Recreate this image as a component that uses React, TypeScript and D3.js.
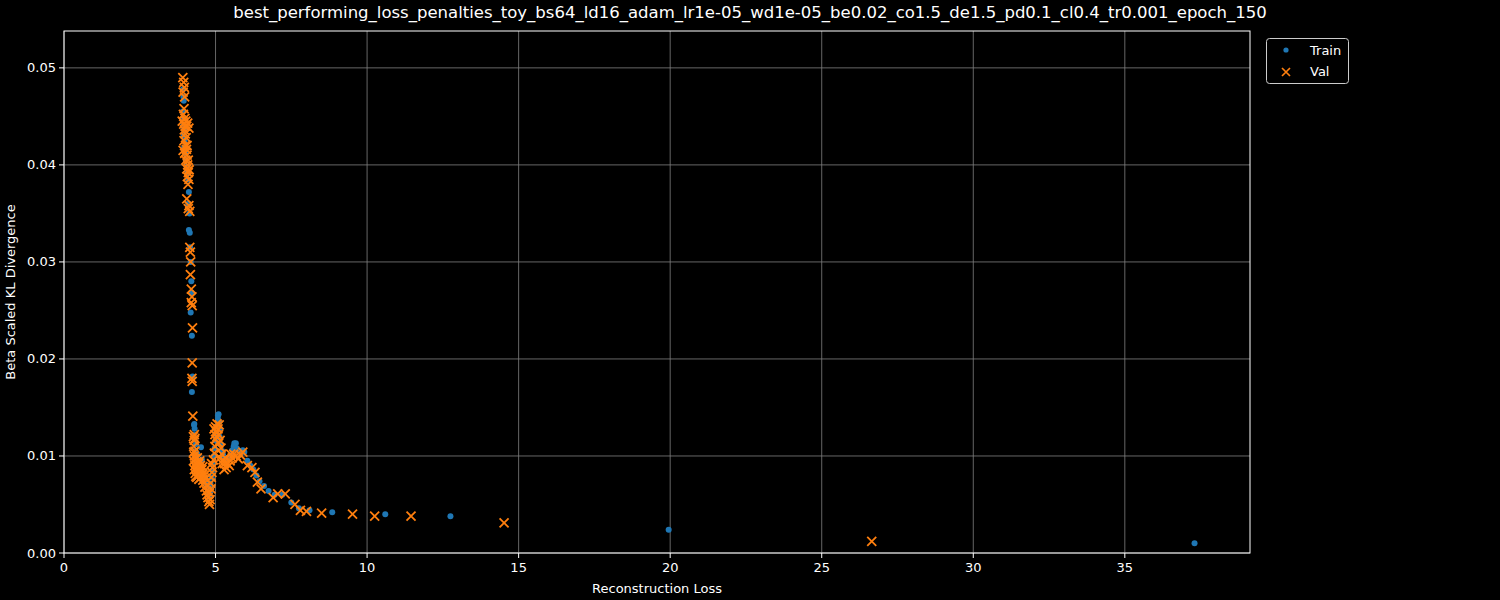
import React from "react";
import * as d3 from "d3";

const TITLE = "best_performing_loss_penalties_toy_bs64_ld16_adam_lr1e-05_wd1e-05_be0.02_co1.5_de1.5_pd0.1_cl0.4_tr0.001_epoch_150";
const X_LABEL = "Reconstruction Loss";
const Y_LABEL = "Beta Scaled KL Divergence";
const X_TICKS = [0, 5, 10, 15, 20, 25, 30, 35];
const Y_TICKS = [0, 0.01, 0.02, 0.03, 0.04, 0.05];
const LEGEND = ["Train", "Val"];

const trainX = [3.93,3.94,3.95,3.92,3.96,3.93,3.97,3.95,3.98,3.96,4.0,4.02,4.05,4.08,4.1,4.12,4.1,4.14,4.12,4.15,4.16,4.18,4.2,4.21,4.18,4.22,4.24,4.22,
4.3,4.31,4.28,4.3,4.35,4.33,4.38,4.4,4.42,4.45,4.5,4.55,4.6,4.5,4.62,4.68,4.72,4.75,4.78,4.8,4.82,4.85,4.83,4.87,4.9,4.92,4.95,4.97,5.0,5.02,5.05,5.08,5.1,5.12,5.15,5.13,5.18,5.22,5.28,5.35,5.42,5.5,5.55,5.6,5.62,5.7,5.8,5.9,5.95,6.05,6.15,6.25,6.35,6.45,6.6,6.75,6.95,7.2,7.5,7.75,8.1,8.85,10.6,12.75,19.95,37.3,
4.29,4.52,5.67,5.08,4.4,4.55,4.98,5.25];
const trainY = [0.0478,0.0470,0.0466,0.0455,0.0448,0.0440,0.0436,0.0430,0.0425,0.0418,0.0412,0.0405,0.0398,0.0392,0.0385,0.0372,0.0360,0.0350,0.0333,0.0330,0.0315,0.0300,0.0280,0.0268,0.0248,0.0224,0.0182,0.0166,
0.0133,0.0128,0.0122,0.0118,0.0112,0.0105,0.0100,0.0095,0.0090,0.0088,0.0085,0.0082,0.0080,0.0092,0.0078,0.0075,0.0070,0.0066,0.0062,0.0058,0.0062,0.0067,0.0072,0.0078,0.0085,0.0092,0.0100,0.0108,0.0116,0.0124,0.0131,0.0138,0.0143,0.0135,0.0128,0.0120,0.0112,0.0105,0.0098,0.0095,0.0097,0.0100,0.0106,0.0110,0.0113,0.0108,0.0105,0.0106,0.0104,0.0095,0.0090,0.0086,0.0080,0.0074,0.0069,0.0064,0.0060,0.0060,0.0052,0.0046,0.0044,0.0042,0.0040,0.0038,0.0024,0.0010,
0.0132,0.0109,0.0113,0.0142,0.0102,0.0096,0.0121,0.0101];

const valX = [3.92,3.95,3.97,3.93,3.98,3.96,3.94,3.99,4.02,3.95,4.05,3.97,4.0,4.03,3.96,4.01,4.04,3.98,4.06,4.02,4.08,4.05,4.1,4.07,4.12,4.09,4.05,4.12,4.15,4.1,4.15,4.17,4.18,4.17,4.2,4.22,4.2,4.23,4.24,4.23,4.22,4.23,
3.9,4.08,4.06,3.93,4.1,4.13,4.0,4.12,
4.25,4.27,4.3,4.28,4.32,4.3,4.34,4.38,4.32,4.36,4.4,4.33,4.42,4.38,4.45,4.48,4.5,4.55,4.45,4.58,4.62,4.65,4.7,4.72,4.75,4.78,4.8,4.82,4.8,4.85,4.84,4.86,4.88,4.9,4.87,4.93,4.96,4.98,5.0,5.02,5.0,5.05,5.08,5.1,5.12,5.15,5.18,5.2,5.25,5.3,5.35,5.4,5.48,5.55,5.6,5.68,5.75,5.82,5.9,6.05,6.2,6.3,6.38,6.5,6.9,7.05,7.3,7.62,7.8,8.0,8.5,9.52,10.25,11.45,14.52,26.65,
4.35,4.4,4.45,4.5,4.55,4.6,4.52,4.42,4.48,4.58,4.63,4.68,4.3,4.35,4.27,4.28,4.3,4.32,
4.95,5.05,5.1,4.98,5.15,5.22,5.28,5.32,5.45,5.5];
const valY = [0.0490,0.0485,0.0480,0.0475,0.0470,0.0458,0.0452,0.0448,0.0445,0.0442,0.0440,0.0436,0.0432,0.0428,0.0425,0.0420,0.0416,0.0412,0.0410,0.0405,0.0400,0.0396,0.0392,0.0388,0.0385,0.0380,0.0365,0.0358,0.0352,0.0355,0.0315,0.0310,0.0300,0.0287,0.0272,0.0264,0.0258,0.0255,0.0232,0.0196,0.0180,0.0177,
0.0445,0.0443,0.0420,0.0415,0.0405,0.0395,0.0440,0.0438,
0.0141,0.0120,0.0116,0.0110,0.0105,0.0100,0.0097,0.0094,0.0090,0.0088,0.0085,0.0082,0.0080,0.0078,0.0092,0.0087,0.0083,0.0080,0.0076,0.0075,0.0072,0.0068,0.0064,0.0060,0.0057,0.0053,0.0050,0.0055,0.0062,0.0066,0.0072,0.0078,0.0083,0.0088,0.0092,0.0096,0.0103,0.0110,0.0117,0.0125,0.0130,0.0133,0.0128,0.0122,0.0132,0.0116,0.0108,0.0102,0.0096,0.0092,0.0088,0.0092,0.0095,0.0098,0.0102,0.0100,0.0097,0.0101,0.0104,0.0090,0.0088,0.0083,0.0073,0.0066,0.0057,0.0061,0.0061,0.0050,0.0044,0.0043,0.0041,0.0040,0.0038,0.0038,0.0031,0.0012,
0.0092,0.0098,0.0081,0.0090,0.0086,0.0083,0.0078,0.0086,0.0095,0.0089,0.0080,0.0077,0.0086,0.0079,0.0095,0.0104,0.0122,0.0118,
0.0128,0.0120,0.0113,0.0122,0.0098,0.0092,0.0086,0.0098,0.0090,0.0102];

const W = 1500, H = 600;
const M = { left: 64, right: 1250, top: 31, bottom: 553 };
const FONT = "DejaVu Sans, sans-serif";
const BLUE = "#1f77b4", ORANGE = "#ff7f0e";

export default function App() {
  const x = d3.scaleLinear().domain([0, 39.13]).range([M.left, M.right]);
  const y = d3.scaleLinear().domain([0, 0.0538]).range([M.bottom, M.top]);
  const fmt = d3.format(".2f");
  const xs = 4.5;
  return (
    <svg width={W} height={H} style={{ position: "absolute", left: 0, top: 0, background: "#000" }}>
      <rect x={0} y={0} width={W} height={H} fill="#000" />
      <text x={750} y={18} fill="#fff" fontFamily={FONT} fontSize={16.5} textAnchor="middle">{TITLE}</text>
      {X_TICKS.map((t) => (
        <line key={"gx" + t} x1={x(t)} x2={x(t)} y1={M.top} y2={M.bottom} stroke="#808080" strokeWidth={0.8} />
      ))}
      {Y_TICKS.map((t) => (
        <line key={"gy" + t} x1={M.left} x2={M.right} y1={y(t)} y2={y(t)} stroke="#808080" strokeWidth={0.8} />
      ))}
      {trainX.map((v, i) => (
        <circle key={"t" + i} cx={x(v)} cy={y(trainY[i])} r={3} fill={BLUE} />
      ))}
      {valX.map((v, i) => {
        const cx = x(v), cy = y(valY[i]);
        return (
          <path key={"v" + i} d={`M${cx - xs},${cy - xs}L${cx + xs},${cy + xs}M${cx - xs},${cy + xs}L${cx + xs},${cy - xs}`} stroke={ORANGE} strokeWidth={1.8} fill="none" />
        );
      })}
      <rect x={M.left} y={M.top} width={M.right - M.left} height={M.bottom - M.top} fill="none" stroke="#fff" strokeWidth={1} />
      {X_TICKS.map((t) => (
        <g key={"xt" + t}>
          <line x1={x(t)} x2={x(t)} y1={M.bottom} y2={M.bottom + 5} stroke="#fff" />
          <text x={x(t)} y={M.bottom + 19} fill="#fff" fontFamily={FONT} fontSize={13} textAnchor="middle">{t}</text>
        </g>
      ))}
      {Y_TICKS.map((t) => (
        <g key={"yt" + t}>
          <line x1={M.left - 5} x2={M.left} y1={y(t)} y2={y(t)} stroke="#fff" />
          <text x={M.left - 8} y={y(t) + 4.5} fill="#fff" fontFamily={FONT} fontSize={13} textAnchor="end">{fmt(t)}</text>
        </g>
      ))}
      <text x={(M.left + M.right) / 2} y={593} fill="#fff" fontFamily={FONT} fontSize={13} textAnchor="middle">{X_LABEL}</text>
      <text transform={`translate(15,${(M.top + M.bottom) / 2}) rotate(-90)`} fill="#fff" fontFamily={FONT} fontSize={13} textAnchor="middle">{Y_LABEL}</text>
      <g>
        <rect x={1266.5} y={38.5} width={82} height={45} rx={3} fill="#000" stroke="#cccccc" strokeWidth={1} />
        <circle cx={1286} cy={50} r={2.6} fill={BLUE} />
        <text x={1310} y={54.5} fill="#fff" fontFamily={FONT} fontSize={13}>{LEGEND[0]}</text>
        <path d={`M${1286 - 4},${72 - 4}L${1286 + 4},${72 + 4}M${1286 - 4},${72 + 4}L${1286 + 4},${72 - 4}`} stroke={ORANGE} strokeWidth={1.7} />
        <text x={1310} y={75.5} fill="#fff" fontFamily={FONT} fontSize={13}>{LEGEND[1]}</text>
      </g>
    </svg>
  );
}
